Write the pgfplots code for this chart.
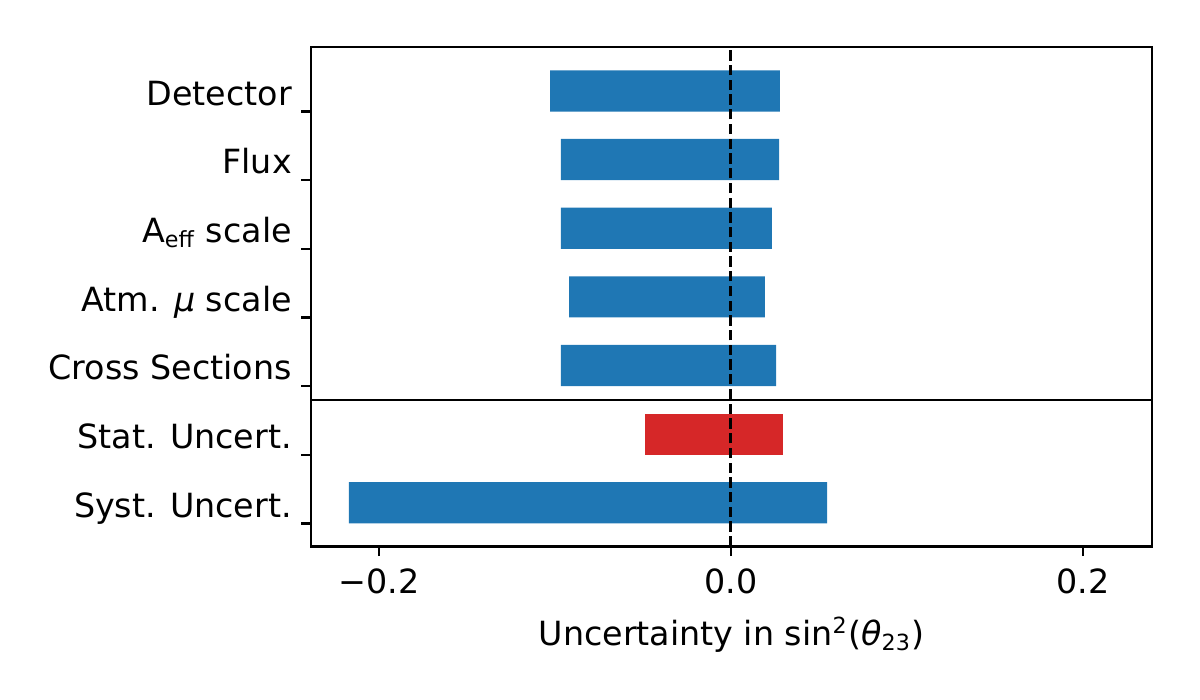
\documentclass[border=0pt]{standalone}
\usepackage{fontspec}
\setmainfont{DejaVu Sans}
\usepackage{pgfplots}
\usepackage{pgfplotstable}
\pgfplotsset{compat=1.18}

\definecolor{tabblue}{HTML}{1F77B4}
\definecolor{tabred}{HTML}{D62728}

% y = row position + 0.3 (bars span [i, i+0.6]); lo/hi = lower/upper uncertainty
\pgfplotstableread{
y   lo      hi
6.3 -0.1028 0.0278
5.3 -0.0966 0.0273
4.3 -0.0966 0.0233
3.3 -0.0920 0.0193
2.3 -0.0966 0.0256
0.3 -0.2170 0.0546
}\systtab
\pgfplotstableread{
y   lo      hi
1.3 -0.0489 0.0295
}\stattab

\begin{document}
\fontsize{12}{14.4}\selectfont
\begin{tikzpicture}
\begin{axis}[
    scale only axis,
    width=302.8pt, height=179.8pt,
    xmin=-0.2386, xmax=0.2392,
    ymin=-0.335, ymax=6.94,
    line width=0.8pt,
    tick style={line width=0.8pt, black},
    tick align=outside,
    major tick length=3.5pt,
    xtick pos=bottom, ytick pos=left,
    xtick={-0.2,0,0.2},
    xticklabels={−0.2,0.0,0.2},
    ytick={0,1,2,3,4,5,6},
    yticklabels={Syst. Uncert., Stat. Uncert., Cross Sections, Atm. \textit{μ} scale, A\textsubscript{eff} scale, Flux, Detector},
    yticklabel style={anchor=base east, yshift=2.3pt, xshift=1pt},
    xlabel={Uncertainty in sin\textsuperscript{2}(\textit{θ}\textsubscript{23})},
]
\addplot[xbar, bar width=0.6, bar shift=0, fill=tabblue, draw=none] table[x=lo, y=y] {\systtab};
\addplot[xbar, bar width=0.6, bar shift=0, fill=tabblue, draw=none] table[x=hi, y=y] {\systtab};
\addplot[xbar, bar width=0.6, bar shift=0, fill=tabred, draw=none] table[x=lo, y=y] {\stattab};
\addplot[xbar, bar width=0.6, bar shift=0, fill=tabred, draw=none] table[x=hi, y=y] {\stattab};
\addplot[black, line width=0.9pt] coordinates {(-0.2386,1.8) (0.2392,1.8)};
\addplot[black, line width=1.1pt, dash pattern=on 3.7pt off 1.6pt] coordinates {(0,-0.335) (0,6.94)};
\coordinate (sw) at (rel axis cs:0,0);
\coordinate (ne) at (rel axis cs:1,1);
\end{axis}
\path ([shift={(-111.96pt,-55.26pt)}]sw) rectangle ([shift={(17.28pt,16.92pt)}]ne);
\end{tikzpicture}
\end{document}
